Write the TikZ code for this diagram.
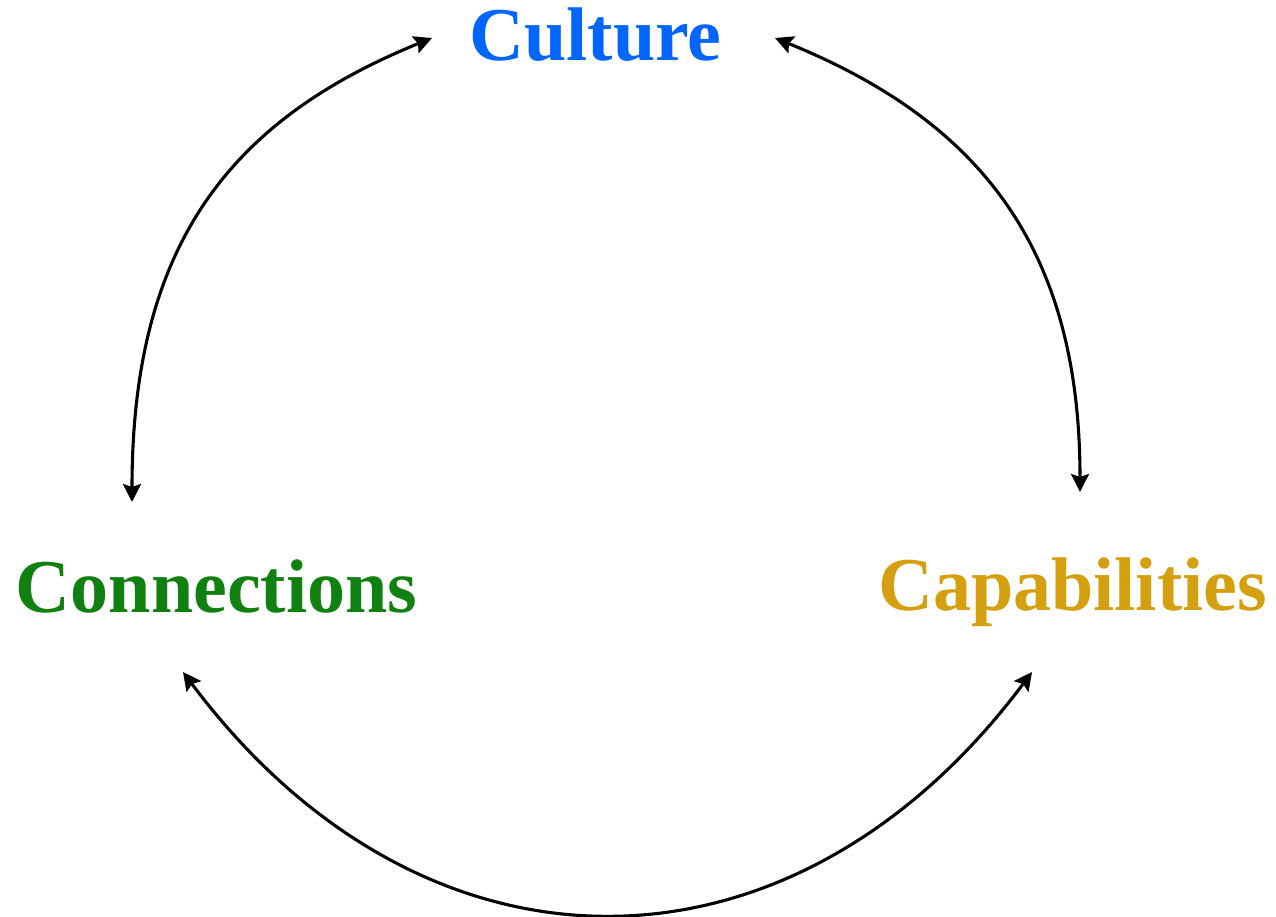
\documentclass[tikz,border=0pt]{standalone}
\usepackage{fontspec}
\setmainfont{Liberation Serif}
\usetikzlibrary{arrows.meta}
\definecolor{cultureblue}{RGB}{0,102,255}
\definecolor{conngreen}{RGB}{16,128,16}
\definecolor{capgold}{RGB}{212,160,16}
\tikzset{
  label text/.style={font=\fontsize{76}{80}\selectfont\bfseries, inner sep=0pt, anchor=base},
  link/.style={line width=3.1pt, {Stealth[length=18pt,width=18pt,inset=3pt]}-{Stealth[length=18pt,width=18pt,inset=3pt]}}
}
\begin{document}
\begin{tikzpicture}[x=1pt,y=-1pt]
\useasboundingbox (0,0) rectangle (1276,916);
\node[label text, text=cultureblue] (culture) at (595.5,60) {Culture};
\node[label text, text=conngreen] (conn) at (216.5,612) {Connections};
\node[label text, text=capgold] (cap) at (1072.5,610) {Capabilities};
\coordinate (a1) at (432,38);
\coordinate (a2) at (132,502);
\coordinate (b1) at (775,38);
\coordinate (b2) at (1080,492);
\coordinate (c1) at (183,672);
\coordinate (c2) at (1032,672);
\draw[link] (a1) .. controls (225,122) and (132,250) .. (a2);
\draw[link] (b1) .. controls (982,122) and (1080,250) .. (b2);
\draw[link] (c1) .. controls (424,994) and (791,994) .. (c2);
\end{tikzpicture}
\end{document}
